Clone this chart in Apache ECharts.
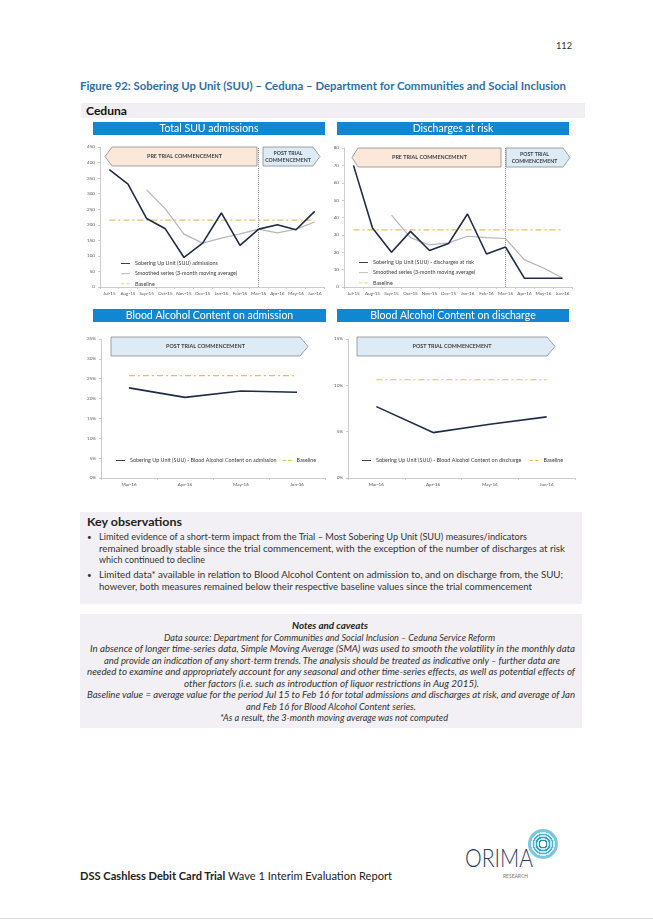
<!DOCTYPE html>
<html><head><meta charset="utf-8">
<script src="https://cdn.jsdelivr.net/npm/echarts@6/dist/echarts.min.js"></script>
<style>
html,body{margin:0;padding:0;background:#fff}
body{width:653px;height:923px;position:relative;overflow:hidden;font-family:Lato,"Open Sans",sans-serif;color:#222}
.a{position:absolute;white-space:nowrap}
.t{position:absolute;white-space:nowrap;line-height:12px;font-size:9.3px;color:#333;transform-origin:left center}
.ch{position:absolute}
</style></head><body>

<div class="t" style="left:556px;top:39px;font-size:10px;color:#333" data-w="16">112</div>
<div class="t" style="left:80px;top:80px;font-size:10.5px;font-weight:bold;color:#2f6ea8" data-w="486">Figure 92: Sobering Up Unit (SUU) – Ceduna – Department for Communities and Social Inclusion</div>
<div class="a" style="left:81px;top:103px;width:504px;height:15px;background:#f1eff3"></div>
<div class="t" style="left:86px;top:105px;font-size:11.5px;font-weight:bold;color:#111" data-w="41">Ceduna</div>

<div id="c1" class="ch" style="left:80px;top:120px;width:250px;height:185px"></div>
<div id="c2" class="ch" style="left:330px;top:120px;width:250px;height:185px"></div>
<div id="c3" class="ch" style="left:80px;top:305px;width:250px;height:190px"></div>
<div id="c4" class="ch" style="left:330px;top:305px;width:250px;height:190px"></div>

<div class="a" style="left:80px;top:512px;width:502px;height:92px;background:#f2f0f4"></div>
<div class="t" style="left:87px;top:516px;font-size:10.5px;font-weight:bold;color:#222" data-w="95">Key observations</div>
<div class="t" style="left:87px;top:531px;font-size:8px">•</div>
<div class="t" style="left:99px;top:531px" data-w="428">Limited evidence of a short-term impact from the Trial – Most Sobering Up Unit (SUU) measures/indicators</div>
<div class="t" style="left:99px;top:542.5px" data-w="466">remained broadly stable since the trial commencement, with the exception of the number  of discharges at risk</div>
<div class="t" style="left:99px;top:554px" data-w="106">which continued to decline</div>
<div class="t" style="left:87px;top:569px;font-size:8px">•</div>
<div class="t" style="left:99px;top:569px" data-w="464">Limited data* available in relation to Blood Alcohol Content on admission to, and on discharge from, the SUU;</div>
<div class="t" style="left:99px;top:580.5px" data-w="433">however, both measures remained below their respective baseline values since the trial commencement</div>

<div class="a" style="left:80px;top:614px;width:502px;height:114px;background:#f2f0f4"></div>
<div class="t" style="left:292px;top:620px;font-style:italic;font-weight:bold;color:#222" data-w="76">Notes and caveats</div>
<div class="t" style="left:164px;top:631.5px;font-style:italic" data-w="331">Data source: Department for Communities and Social Inclusion – Ceduna Service Reform</div>
<div class="t" style="left:90px;top:643px;font-style:italic" data-w="485">In absence of longer time-series data, Simple Moving Average (SMA) was used to smooth the volatility in the monthly data</div>
<div class="t" style="left:104px;top:654.5px;font-style:italic" data-w="456">and provide an indication of any short-term trends. The analysis should be treated as indicative only – further data are</div>
<div class="t" style="left:87px;top:666px;font-style:italic" data-w="488">needed to examine and appropriately account for any seasonal and other time-series effects, as well as potential effects of</div>
<div class="t" style="left:184px;top:677.5px;font-style:italic" data-w="295">other factors (i.e. such as introduction of liquor restrictions in Aug 2015).</div>
<div class="t" style="left:87px;top:689px;font-style:italic" data-w="488">Baseline value = average value for the period Jul 15 to Feb 16 for total admissions and discharges at risk, and average of Jan</div>
<div class="t" style="left:246px;top:700.5px;font-style:italic" data-w="170">and Feb 16 for Blood Alcohol Content series.</div>
<div class="t" style="left:220px;top:712px;font-style:italic" data-w="228">*As a result, the 3-month moving average was not computed</div>

<div class="t" style="left:80px;top:870px;font-size:10.5px;color:#222" data-w="312"><b>DSS Cashless Debit Card Trial</b> Wave 1 Interim Evaluation Report</div>
<div class="a" style="left:528px;top:829px;width:30px;height:30px;border-radius:50%;background:radial-gradient(circle,#ffffff 0 3px,#2a8fb8 3px 4.5px,#c8ecf5 4.5px 6px,#3aa3c8 6px 7.5px,#bfe6f1 7.5px 9px,#4fb2d2 9px 10.5px,#d6f0f7 10.5px 12px,#7cc6de 12px 15px)"></div>
<div class="t" style="left:465px;top:846px;font-size:25px;line-height:22px;font-weight:300;color:#2a3b62" data-w="68">ORIMA</div>
<div class="t" style="left:503px;top:872px;font-size:5px;line-height:8px;color:#777" data-w="25">RESEARCH</div>
<div class="a" style="left:0;top:918px;width:653px;height:1px;background:#ddd"></div>

<script>
// ---------- data ----------
const months = ['Jul-15','Aug-15','Sep-15','Oct-15','Nov-15','Dec-15','Jan-16','Feb-16','Mar-16','Apr-16','May-16','Jun-16'];
const admissions = [377, 331, 220, 187, 95, 141, 238, 134, 186, 200, 184, 243];
const admissionsSma = [null, null, 312, 251, 170, 141, 157, 171, 186, 174, 186, 209];
const admissionsBaseline = [215, 215, 215, 215, 215, 215, 215, 215, 215, 215, 215, 215];
const discharges = [70, 34, 20, 32, 21, 25, 42, 19, 23, 5, 5, 5];
const dischargesSma = [null, null, 41.4, 28.4, 24.2, 25.4, 29.2, 28.4, 27.9, 15.6, 10.9, 5.2];
const dischargesBaseline = [32.9, 32.9, 32.9, 32.9, 32.9, 32.9, 32.9, 32.9, 32.9, 32.9, 32.9, 32.9];
const bacMonths = ['Mar-16','Apr-16','May-16','Jun-16'];
const bacAdmission = [22.7, 20.3, 21.9, 21.6];
const bacAdmissionBaseline = [25.8, 25.8, 25.8, 25.8];
const bacDischarge = [7.7, 4.9, 5.8, 6.6];
const bacDischargeBaseline = [10.6, 10.6, 10.6, 10.6];
const trialStart = 'Mar-16';

// ---------- styling helpers ----------
const FONT = 'Lato';
const NAVY = '#1f2b48', GREY = '#b5b5b5', GOLD = '#e8be5a', AXIS = '#bfbfbf', LBL = '#595959';
const BLUE = '#1186d1', PEACH = '#fce8da', LIGHTBLUE = '#ddebf7', BORDER = '#8c8c8c';
const SOLID_ICON = 'path://M0,0h10v1h-10z';
const DASH_ICON = 'path://M0,0h4v1h-4z M6,0h4v1h-4z';

function titleBar(x, y, w, h, text) {
  return [
    {type:'rect', shape:{x, y, width:w, height:h}, style:{fill:BLUE}, z:1},
    {type:'text', z:2, style:{text, x:x + w/2, y:y + h/2 + 0.5, fill:'#fff', font:'10.5px ' + FONT,
      align:'center', verticalAlign:'middle', textAlign:'center', textVerticalAlign:'middle'}}
  ];
}
function banner(dir, x0, x1, tip, y0, y1, lines, fs) {
  const m = (y0 + y1) / 2;
  const pts = dir === 'left'
    ? [[tip, m], [x0, y0], [x1, y0], [x1, y1], [x0, y1]]
    : [[x0, y0], [x1, y0], [tip, m], [x1, y1], [x0, y1]];
  const els = [{type:'polygon', z:1, shape:{points:pts},
    style:{fill: dir === 'left' ? PEACH : LIGHTBLUE, stroke:BORDER, lineWidth:0.8}}];
  const cx = (x0 + x1) / 2;
  const lh = fs + 2;
  lines.forEach((s, i) => {
    els.push({type:'text', z:2, style:{text:s, x:cx, y:m + (i - (lines.length - 1) / 2) * lh,
      fill:'#3f3f3f', font:'bold ' + fs + 'px ' + FONT,
      align:'center', verticalAlign:'middle', textAlign:'center', textVerticalAlign:'middle'}});
  });
  return els;
}
function xAxis(cats) {
  return {type:'category', data:cats, boundaryGap:true,
    axisLine:{lineStyle:{color:AXIS, width:0.8}},
    axisTick:{show:true, length:2, lineStyle:{color:AXIS, width:0.8}},
    axisLabel:{fontSize:4.6, color:LBL, margin:4, interval:0, fontFamily:FONT}};
}
function yAxis(max, interval, pct) {
  return {type:'value', min:0, max, interval,
    splitLine:{show:false},
    axisLine:{show:true, lineStyle:{color:AXIS, width:0.8}},
    axisTick:{show:true, length:2, lineStyle:{color:AXIS, width:0.8}},
    axisLabel:{fontSize:4.6, color:LBL, margin:5, fontFamily:FONT, formatter: pct ? '{value}%' : '{value}'}};
}
function mainSeries(name, data, withMark) {
  const s = {name, type:'line', data, symbol:'none', lineStyle:{color:NAVY, width:1.6}, itemStyle:{color:NAVY}, z:4};
  if (withMark) s.markLine = {silent:true, symbol:'none', label:{show:false},
    lineStyle:{color:'#8a8a8a', type:'dotted', width:1}, data:[{xAxis:trialStart}]};
  return s;
}
function smaSeries(data) {
  return {name:'Smoothed series (3-month moving average)', type:'line', data, symbol:'none',
    lineStyle:{color:GREY, width:1.2}, itemStyle:{color:GREY}, z:3};
}
function baseSeries(data) {
  return {name:'Baseline', type:'line', data, symbol:'none',
    lineStyle:{color:GOLD, width:1.2, type:[6,3,2,3]}, itemStyle:{color:GOLD}, z:2};
}
function legend(orient, left, top, gap, names) {
  return {orient, left, top, itemWidth:9, itemHeight:1.8, itemGap:gap,
    data: names.map(n => ({name:n, icon: n === 'Baseline' ? DASH_ICON : SOLID_ICON})),
    textStyle:{fontSize:5.4, color:'#404040', fontFamily:FONT}};
}

// ---------- charts ----------
const c1 = echarts.init(document.getElementById('c1'), null, {renderer:'canvas'});
c1.setOption({
  animation:false,
  textStyle:{fontFamily:FONT},
  grid:{left:20, right:6, top:27, bottom:18},
  xAxis:xAxis(months), yAxis:yAxis(450, 50),
  legend:legend('vertical', 36, 136, 5.2, ['Sobering Up Unit (SUU) admissions', 'Smoothed series (3-month moving average)', 'Baseline']),
  graphic:[].concat(
    titleBar(13, 2, 232, 13, 'Total SUU admissions'),
    banner('left', 32, 177, 25, 27, 46, ['PRE TRIAL COMMENCEMENT'], 5.4),
    banner('right', 183, 233, 240, 27, 46, ['POST TRIAL', 'COMMENCEMENT'], 5.2)
  ),
  series:[mainSeries('Sobering Up Unit (SUU) admissions', admissions, true), smaSeries(admissionsSma), baseSeries(admissionsBaseline)]
});

const c2 = echarts.init(document.getElementById('c2'), null, {renderer:'canvas'});
c2.setOption({
  animation:false,
  textStyle:{fontFamily:FONT},
  grid:{left:14, right:8, top:28, bottom:18},
  xAxis:xAxis(months), yAxis:yAxis(80, 10),
  legend:legend('vertical', 24, 135, 5.2, ['Sobering Up Unit (SUU) - discharges at risk', 'Smoothed series (3-month moving average)', 'Baseline']),
  graphic:[].concat(
    titleBar(7, 2, 232, 13, 'Discharges at risk'),
    banner('left', 28, 171, 22, 28, 47, ['PRE TRIAL COMMENCEMENT'], 5.4),
    banner('right', 176, 233, 240, 28, 47, ['POST TRIAL', 'COMMENCEMENT'], 5.2)
  ),
  series:[mainSeries('Sobering Up Unit (SUU) - discharges at risk', discharges, true), smaSeries(dischargesSma), baseSeries(dischargesBaseline)]
});

const c3 = echarts.init(document.getElementById('c3'), null, {renderer:'canvas'});
c3.setOption({
  animation:false,
  textStyle:{fontFamily:FONT},
  grid:{left:21, right:5, top:34, bottom:17},
  xAxis:xAxis(bacMonths), yAxis:yAxis(35, 5, true),
  legend:legend('horizontal', 31, 148, 6, ['Sobering Up Unit (SUU) - Blood Alcohol Content on admission', 'Baseline']),
  graphic:[].concat(
    titleBar(13, 4, 233, 13, 'Blood Alcohol Content on admission'),
    banner('right', 31, 220, 228, 32, 51, ['POST TRIAL COMMENCEMENT'], 5.4)
  ),
  series:[mainSeries('Sobering Up Unit (SUU) - Blood Alcohol Content on admission', bacAdmission, false), baseSeries(bacAdmissionBaseline)]
});

const c4 = echarts.init(document.getElementById('c4'), null, {renderer:'canvas'});
c4.setOption({
  animation:false,
  textStyle:{fontFamily:FONT},
  grid:{left:18, right:5, top:34, bottom:17},
  xAxis:xAxis(bacMonths), yAxis:yAxis(15, 5, true),
  legend:legend('horizontal', 27, 148, 8, ['Sobering Up Unit (SUU) - Blood Alcohol Content on discharge', 'Baseline']),
  graphic:[].concat(
    titleBar(7, 4, 232, 13, 'Blood Alcohol Content on discharge'),
    banner('right', 27, 217, 225, 32, 51, ['POST TRIAL COMMENCEMENT'], 5.4)
  ),
  series:[mainSeries('Sobering Up Unit (SUU) - Blood Alcohol Content on discharge', bacDischarge, false), baseSeries(bacDischargeBaseline)]
});

// ---------- fit page text lines to measured widths ----------
function fit() {
  document.querySelectorAll('[data-w]').forEach(el => {
    el.style.transform = 'none';
    const w = el.getBoundingClientRect().width;
    if (w > 0) el.style.transform = 'scaleX(' + (+el.dataset.w / w) + ')';
  });
}
fit();
if (document.fonts && document.fonts.ready) document.fonts.ready.then(fit);
</script>
</body></html>
